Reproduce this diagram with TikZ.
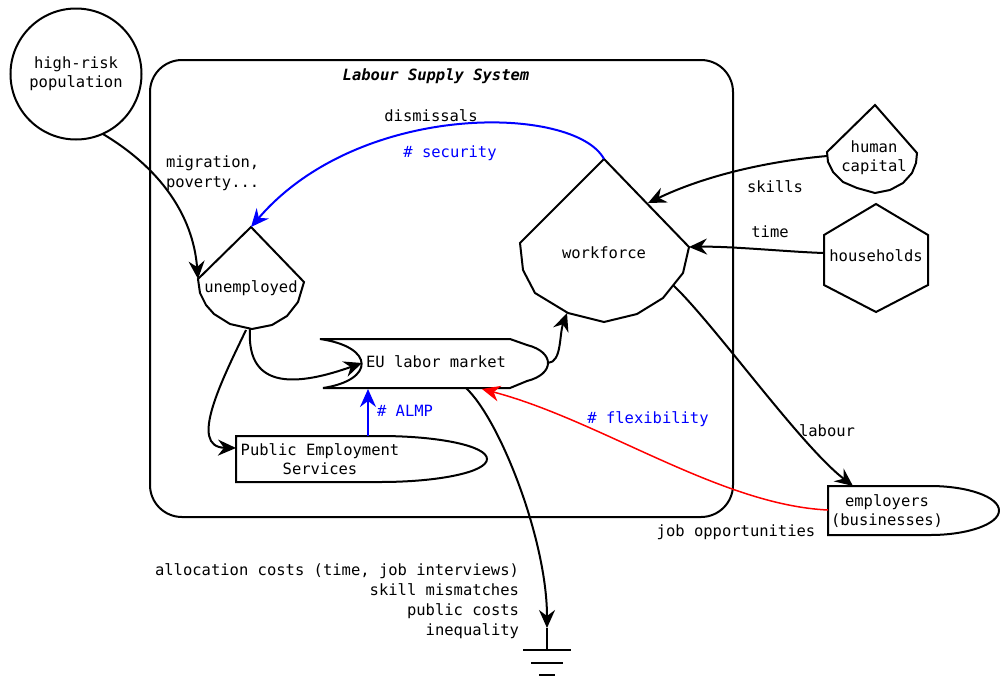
\documentclass[tikz,border=0pt]{standalone}
\usepackage{fontspec}
\setmainfont{DejaVu Sans Mono}
\setmonofont{DejaVu Sans Mono}
\usetikzlibrary{arrows.meta}

\tikzset{
  every node/.style={inner sep=0pt, outer sep=0pt},
  lbl/.style={font=\fontsize{15.5}{20}\selectfont, text height=11.5pt, text depth=3.5pt},
  mlbl/.style={font=\fontsize{15.5}{19}\selectfont, align=center},
  bluelbl/.style={lbl, text=blue},
  outline/.style={draw=black, line width=2pt, line join=miter, fill=white},
  tipstyle/.style={-{Stealth[length=18pt,width=16pt,inset=6pt]}},
  flow/.style={draw=black, line width=2pt, tipstyle},
  policy/.style={draw=blue, line width=2pt, tipstyle},
  flex/.style={draw=red, line width=1.5pt, tipstyle},
}

\begin{document}
\begin{tikzpicture}[x=1pt,y=-1pt]
\useasboundingbox (0,0) rectangle (1000,678);

% ---- system boundary ----
\node[draw, line width=2pt, rounded corners=32pt, minimum width=583pt, minimum height=457pt]
  (lss) at (441.5,288.5) {};
\node[lbl, font=\fontsize{15.5}{20}\selectfont\bfseries\itshape] (lsstitle) at (436,76) {Labour Supply System};

% ---- stocks and sources ----
\node[draw, circle, line width=2pt, minimum size=131pt, mlbl] (risk) at (76,74) {high-risk\\population};

% unemployed
\draw[outline] (251,227) -- (198,279) -- (200,293) -- (206,305) -- (214,314) -- (230,324)
  -- (252,329) -- (272,325) -- (287,316) -- (298,302) -- (301,292) -- (304,282) -- cycle;
\node[lbl] (un) at (251,288) {unemployed};

% workforce
\draw[outline] (604,159) -- (520,243) -- (523,270) -- (535,293) -- (568,313) -- (604,322)
  -- (637,314) -- (663,298) -- (683,273) -- (689,247) -- cycle;
\node[lbl] (wf) at (604,254) {workforce};

% human capital
\draw[outline] (875,105) -- (827,152) -- (828,162) -- (833,172) -- (843,182) -- (857,188)
  -- (875,193) -- (890,190) -- (903,183) -- (912,173) -- (916,163) -- (917,153) -- cycle;
\node[mlbl] (hc) at (874,158) {human\\capital};

% households
\draw[outline] (876,204) -- (928,235) -- (928,285) -- (876,312) -- (824,285) -- (824,235) -- cycle;
\node[lbl] (hh) at (876,257) {households};

% EU labor market
\draw[outline] (320,339) -- (510,339) -- (527,345) .. controls (555,352) and (555,374) .. (527,381)
  -- (510,388) -- (323,388) .. controls (375,380) and (375,347) .. cycle;
\node[lbl] (eu) at (436,363) {EU labor market};

% Public Employment Services
\draw[outline] (236,436) -- (380,436) .. controls (439,436) and (487,446) .. (487,459)
  .. controls (487,472) and (439,482) .. (380,482) -- (236,482) -- cycle;
\node[mlbl] (pes) at (320,459) {Public Employment\\Services};

% employers
\draw[outline] (828,486) -- (930,486) .. controls (968,486) and (999,497) .. (999,510.5)
  .. controls (999,524) and (968,535) .. (930,535) -- (828,535) -- cycle;
\node[mlbl] (emp) at (887,511) {employers\\(businesses)};

% ground (sink)
\coordinate (ground) at (547,628);
\coordinate (gstem) at (547,650);
\draw[line width=2pt] (ground) -- (gstem);
\draw[line width=2pt] (523,650) -- (571,650);
\draw[line width=2pt] (531,663) -- (563,663);
\draw[line width=2pt] (539,675) -- (555,675);

% ---- attachment points ----
\coordinate (un-top) at (251,227);
\coordinate (un-left) at (198,279);
\coordinate (un-bot) at (250,329);
\coordinate (un-bot2) at (246,330);
\coordinate (wf-top) at (604,159);
\coordinate (wf-skill) at (648,203);
\coordinate (wf-right) at (689,247);
\coordinate (wf-br) at (673,285);
\coordinate (wf-bot) at (567,313);
\coordinate (hc-left) at (827,156);
\coordinate (hh-left) at (824,253);
\coordinate (eu-in) at (362,363);
\coordinate (eu-out) at (548,363);
\coordinate (eu-bot) at (368,389);
\coordinate (eu-drain) at (466,388);
\coordinate (eu-flex) at (482,389);
\coordinate (pes-in) at (236,448);
\coordinate (pes-top) at (368,436);
\coordinate (emp-top) at (853,486);
\coordinate (emp-left) at (828,510);

% ---- flows ----
\draw[flow] (risk.-66) .. controls (160,168) and (193,215) .. (un-left);
\draw[policy] (wf-top) .. controls (575,105) and (360,100) .. (un-top);
\draw[flow] (hc-left) .. controls (760,162) and (700,178) .. (wf-skill);
\draw[flow] (hh-left) .. controls (790,252) and (730,246) .. (wf-right);
\draw[flow] (wf-br) .. controls (715,325) and (800,445) .. (emp-top);
\draw[flow] (un-bot) .. controls (246,392) and (300,385) .. (eu-in);
\draw[flow] (un-bot2) .. controls (222,380) and (188,447) .. (pes-in);
\draw[flow] (eu-out) .. controls (562,362) and (559,335) .. (wf-bot);
\draw[policy] (pes-top) -- (eu-bot);
\draw[flow] (eu-drain) .. controls (500,420) and (547,540) .. (ground);
\draw[flex] (emp-left) .. controls (720,505) and (600,420) .. (eu-flex);

% ---- flow labels ----
\node[lbl] (l-dis) at (431,117) {dismissals};
\node[bluelbl] (l-sec) at (450,153) {\# security};
\node[font=\fontsize{15.5}{20}\selectfont, align=left, anchor=north west] (l-mig) at (166,156) {migration,\\poverty...};
\node[lbl] (l-skills) at (775,188) {skills};
\node[lbl] (l-time) at (770,233) {time};
\node[bluelbl] (l-flex) at (648,419) {\# flexibility};
\node[lbl] (l-lab) at (827,432) {labour};
\node[bluelbl] (l-almp) at (405,412) {\# ALMP};
\node[lbl] (l-job) at (736,532) {job opportunities};
\node[font=\fontsize{15.5}{20}\selectfont, align=right, anchor=north east] (l-costs) at (519,564)
  {allocation costs (time, job interviews)\\skill mismatches\\public costs\\inequality};
\end{tikzpicture}
\end{document}
